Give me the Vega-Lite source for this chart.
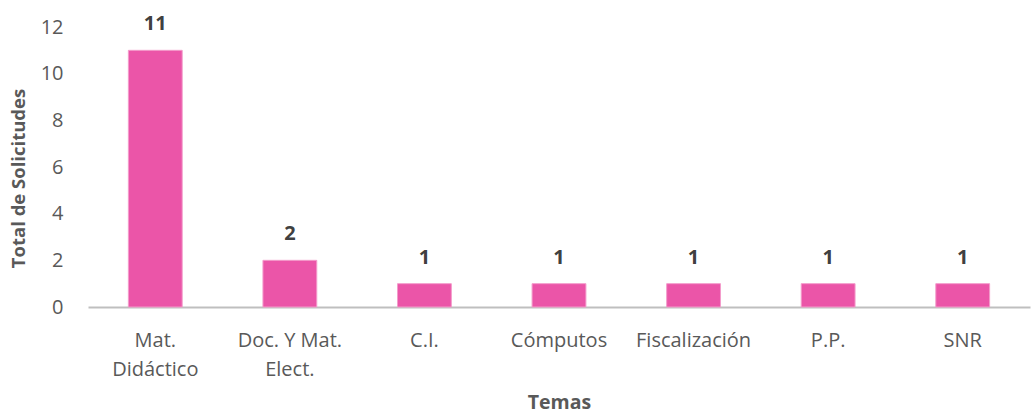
{
  "$schema": "https://vega.github.io/schema/vega-lite/v6.json",
  "autosize": "none",
  "width": 942,
  "height": 280,
  "padding": {"left": 88, "top": 27, "right": 2, "bottom": 107},
  "background": "white",
  "config": {"view": {"stroke": null}, "font": "Open Sans"},
  "data": {
    "values": [
      {"tema": "Mat. Didáctico", "total": 11},
      {"tema": "Doc. Y Mat. Elect.", "total": 2},
      {"tema": "C.I.", "total": 1},
      {"tema": "Cómputos", "total": 1},
      {"tema": "Fiscalización", "total": 1},
      {"tema": "P.P.", "total": 1},
      {"tema": "SNR", "total": 1}
    ]
  },
  "encoding": {
    "x": {
      "field": "tema",
      "type": "nominal",
      "sort": null,
      "scale": {"paddingInner": 0.6, "paddingOuter": 0.3},
      "axis": {
        "title": "Temas",
        "titleFont": "Open Sans",
        "titleFontSize": 19.5,
        "titleFontWeight": "bold",
        "titleColor": "#595959",
        "titlePadding": 14,
        "labelAngle": 0,
        "labelFont": "Open Sans",
        "labelFontSize": 20,
        "labelColor": "#595959",
        "labelLineHeight": 29,
        "labelPadding": 23,
        "labelExpr": "datum.label == 'Mat. Didáctico' ? ['Mat.', 'Didáctico'] : datum.label == 'Doc. Y Mat. Elect.' ? ['Doc. Y Mat.', 'Elect.'] : datum.label",
        "domainColor": "#bfbfbf",
        "domainWidth": 2,
        "ticks": false
      }
    },
    "y": {
      "field": "total",
      "type": "quantitative",
      "scale": {"domain": [0, 12]},
      "axis": {
        "title": "Total de Solicitudes",
        "titleFont": "Open Sans",
        "titleFontSize": 18.5,
        "titleFontWeight": "bold",
        "titleColor": "#595959",
        "titleX": -70,
        "titleY": 151,
        "titleAngle": -90,
        "titleBaseline": "middle",
        "titleAlign": "center",
        "values": [0, 2, 4, 6, 8, 10, 12],
        "labelFont": "Open Sans",
        "labelFontSize": 20,
        "labelColor": "#595959",
        "labelPadding": 25,
        "grid": false,
        "domain": false,
        "ticks": false
      }
    }
  },
  "layer": [
    {
      "mark": {"type": "bar", "color": "#eb55a8", "stroke": "#f39ccb", "strokeWidth": 1}
    },
    {
      "mark": {"type": "text", "baseline": "alphabetic", "dy": -20, "fontSize": 20, "fontWeight": "bold", "color": "#404040", "font": "Open Sans"},
      "encoding": {"text": {"field": "total", "type": "quantitative"}}
    }
  ]
}
